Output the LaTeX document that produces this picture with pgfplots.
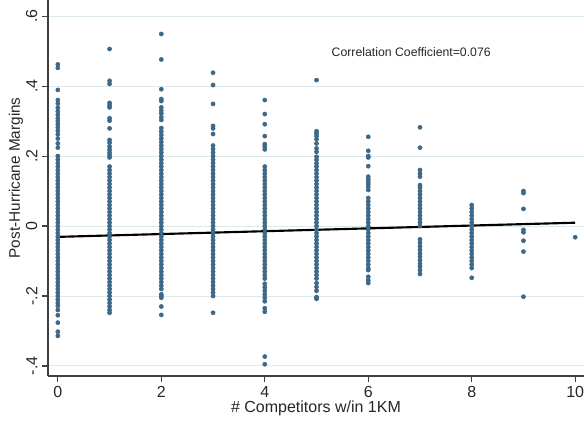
\documentclass[border=0pt]{standalone}
\usepackage{fontspec}
\setmainfont{Liberation Sans}
\usepackage{pgfplots}
\pgfplotsset{compat=1.18}
\definecolor{mk}{RGB}{62,104,136}
\definecolor{gridc}{RGB}{220,233,237}
\begin{document}
\begin{tikzpicture}
\begin{axis}[
 scale only axis, width=402pt, height=282pt,
 xmin=-0.19, xmax=10.17, ymin=-0.4286, ymax=0.646,
 axis x line*=bottom, axis y line*=left,
 axis line style={black!75, line width=0.8pt},
 xtick={0,2,4,6,8,10}, ytick={-0.4,-0.2,0,0.2,0.4,0.6},
 yticklabels={-.4,-.2,0,.2,.4,.6},
 tick align=outside, major tick length=4.5pt,
 tick style={black!75, line width=0.8pt},
 ymajorgrids, grid style={gridc, line width=0.75pt},
 /pgf/number format/assume math mode=true,
 tick label style={font=\fontsize{12}{14}\selectfont, text=black!85},
 yticklabel style={rotate=90, anchor=south},
 xlabel={\# Competitors w/in 1KM}, ylabel={Post-Hurricane Margins},
 xlabel style={font=\fontsize{12}{14}\selectfont, text=black!85, at={(axis description cs:0.5,-0.0851)}, anchor=center},
 ylabel style={font=\fontsize{11.5}{14}\selectfont, text=black!85, at={(axis description cs:-0.0597,0.527)}, anchor=center},
 clip=false,
]
\addplot[only marks, mark=*, mark size=1.55pt, mark options={fill=mk, draw=mk}] coordinates {
(0,0.462)(0,0.452)(0,0.389)(0,0.360)(0,0.350)(0,0.338)(0,0.328)(0,0.318)(0,0.308)(0,0.300)(0,0.291)(0,0.282)(0,0.272)(0,0.262)(0,0.250)(0,0.236)(0,0.224)
(0,0.20)(0,0.19)(0,0.18)(0,0.17)(0,0.16)(0,0.15)(0,0.14)(0,0.13)(0,0.12)(0,0.11)(0,0.10)(0,0.09)(0,0.08)(0,0.07)(0,0.06)(0,0.05)(0,0.04)(0,0.03)(0,0.02)(0,0.01)(0,0.0)
(0,-0.01)(0,-0.02)(0,-0.03)(0,-0.04)(0,-0.05)(0,-0.06)(0,-0.07)(0,-0.08)(0,-0.09)(0,-0.10)(0,-0.11)(0,-0.12)(0,-0.13)(0,-0.14)(0,-0.15)(0,-0.16)(0,-0.17)
(0,-0.18)(0,-0.19)(0,-0.20)(0,-0.21)(0,-0.22)(0,-0.228)(0,-0.24)(0,-0.255)(0,-0.276)(0,-0.302)(0,-0.314)
(1,0.506)(1,0.415)(1,0.406)(1,0.352)(1,0.345)(1,0.339)(1,0.308)(1,0.301)(1,0.279)(1,0.246)(1,0.238)(1,0.227)(1,0.218)(1,0.210)(1,0.203)(1,0.196)
(1,0.17)(1,0.16)(1,0.15)(1,0.14)(1,0.13)(1,0.12)(1,0.11)(1,0.10)(1,0.09)(1,0.08)(1,0.07)(1,0.06)(1,0.05)(1,0.04)(1,0.03)(1,0.02)(1,0.01)(1,0.0)
(1,-0.01)(1,-0.02)(1,-0.03)(1,-0.04)(1,-0.05)(1,-0.06)(1,-0.07)(1,-0.08)(1,-0.09)(1,-0.10)(1,-0.11)(1,-0.12)(1,-0.13)(1,-0.14)(1,-0.15)(1,-0.16)(1,-0.17)(1,-0.18)(1,-0.19)(1,-0.20)(1,-0.21)(1,-0.22)
(1,-0.23)(1,-0.24)(1,-0.248)
(2,0.549)(2,0.476)(2,0.391)(2,0.363)(2,0.357)(2,0.339)(2,0.330)(2,0.322)(2,0.311)(2,0.303)
(2,0.28)(2,0.27)(2,0.26)(2,0.25)(2,0.24)(2,0.23)(2,0.22)(2,0.21)(2,0.20)(2,0.19)(2,0.18)(2,0.17)(2,0.16)(2,0.15)(2,0.14)(2,0.13)(2,0.12)(2,0.11)(2,0.10)(2,0.09)(2,0.08)(2,0.07)(2,0.06)(2,0.05)(2,0.04)(2,0.03)(2,0.02)(2,0.01)(2,0.0)
(2,-0.01)(2,-0.02)(2,-0.03)(2,-0.04)(2,-0.05)(2,-0.06)(2,-0.07)(2,-0.08)(2,-0.09)(2,-0.10)(2,-0.11)(2,-0.12)(2,-0.13)(2,-0.14)(2,-0.15)(2,-0.16)(2,-0.17)(2,-0.18)
(2,-0.195)(2,-0.20)(2,-0.205)(2,-0.23)(2,-0.254)
(3,0.438)(3,0.403)(3,0.349)(3,0.286)(3,0.279)(3,0.263)
(3,0.23)(3,0.22)(3,0.21)(3,0.20)(3,0.19)(3,0.18)(3,0.17)(3,0.16)(3,0.15)(3,0.14)(3,0.13)(3,0.12)(3,0.11)(3,0.10)(3,0.09)(3,0.08)(3,0.07)(3,0.06)(3,0.05)(3,0.04)(3,0.03)(3,0.02)(3,0.01)(3,0.0)
(3,-0.01)(3,-0.02)(3,-0.03)(3,-0.04)(3,-0.05)(3,-0.06)(3,-0.07)(3,-0.08)(3,-0.09)(3,-0.10)(3,-0.11)(3,-0.12)(3,-0.13)(3,-0.14)(3,-0.15)(3,-0.16)(3,-0.17)(3,-0.18)(3,-0.19)(3,-0.20)
(3,-0.248)
(4,0.360)(4,0.320)(4,0.291)(4,0.257)(4,0.234)(4,0.227)(4,0.219)
(4,0.17)(4,0.16)(4,0.15)(4,0.14)(4,0.13)(4,0.12)(4,0.11)(4,0.10)(4,0.09)(4,0.08)(4,0.07)(4,0.06)(4,0.05)(4,0.04)(4,0.03)(4,0.02)(4,0.01)(4,0.0)
(4,-0.01)(4,-0.02)(4,-0.03)(4,-0.04)(4,-0.05)(4,-0.06)(4,-0.07)(4,-0.08)(4,-0.09)(4,-0.10)(4,-0.11)(4,-0.12)(4,-0.13)(4,-0.14)(4,-0.15)
(4,-0.165)(4,-0.175)(4,-0.185)(4,-0.195)(4,-0.205)(4,-0.215)(4,-0.235)(4,-0.245)(4,-0.373)(4,-0.395)
(5,0.417)(5,0.271)(5,0.264)(5,0.257)(5,0.248)(5,0.236)(5,0.222)(5,0.212)(5,0.198)(5,0.189)(5,0.179)(5,0.17)(5,0.16)(5,0.15)
(5,0.14)(5,0.13)(5,0.12)(5,0.11)(5,0.10)(5,0.09)(5,0.08)(5,0.07)(5,0.06)(5,0.05)(5,0.04)(5,0.03)(5,0.02)(5,0.01)(5,0.0)
(5,-0.01)(5,-0.02)(5,-0.03)(5,-0.04)(5,-0.05)(5,-0.06)(5,-0.07)(5,-0.08)(5,-0.09)(5,-0.10)(5,-0.11)(5,-0.12)(5,-0.13)(5,-0.14)(5,-0.15)
(5,-0.163)(5,-0.174)(5,-0.185)(5,-0.203)(5,-0.208)
(6,0.255)(6,0.215)(6,0.200)(6,0.196)(6,0.171)(6,0.141)(6,0.133)(6,0.126)(6,0.120)(6,0.112)(6,0.103)
(6,0.08)(6,0.07)(6,0.06)(6,0.05)(6,0.04)(6,0.03)(6,0.02)(6,0.01)(6,0.0)(6,-0.01)(6,-0.02)(6,-0.03)(6,-0.04)(6,-0.05)(6,-0.06)(6,-0.07)(6,-0.08)
(6,-0.09)(6,-0.10)(6,-0.11)(6,-0.12)(6,-0.126)(6,-0.145)(6,-0.155)(6,-0.163)
(7,0.282)(7,0.224)(7,0.160)(7,0.150)(7,0.141)
(7,0.117)(7,0.11)(7,0.10)(7,0.09)(7,0.08)(7,0.07)(7,0.06)(7,0.05)(7,0.04)(7,0.03)(7,0.02)(7,0.01)(7,0.0)
(7,-0.038)(7,-0.048)(7,-0.058)(7,-0.068)(7,-0.078)(7,-0.088)(7,-0.098)(7,-0.108)(7,-0.116)(7,-0.126)(7,-0.137)
(8,0.060)(8,0.05)(8,0.04)(8,0.03)(8,0.02)(8,0.01)(8,0.0)(8,-0.01)(8,-0.02)(8,-0.03)(8,-0.04)(8,-0.05)(8,-0.06)(8,-0.07)(8,-0.08)(8,-0.09)(8,-0.10)(8,-0.11)(8,-0.12)(8,-0.148)
(9,0.100)(9,0.094)(9,0.049)(9,-0.011)(9,-0.018)(9,-0.042)(9,-0.073)(9,-0.202)
(10,-0.032)
};
\addplot[black, line width=1.6pt] coordinates {(0,-0.031) (10,0.0095)};
\node[font=\fontsize{9.2}{11}\selectfont, text=black!85] at (axis cs:6.83,0.497) {Correlation Coefficient=0.076};
\end{axis}
\pgfresetboundingbox
\path[use as bounding box] ([xshift=-36pt,yshift=-35.25pt]current axis.south west) rectangle (current axis.north east);
\end{tikzpicture}
\end{document}
